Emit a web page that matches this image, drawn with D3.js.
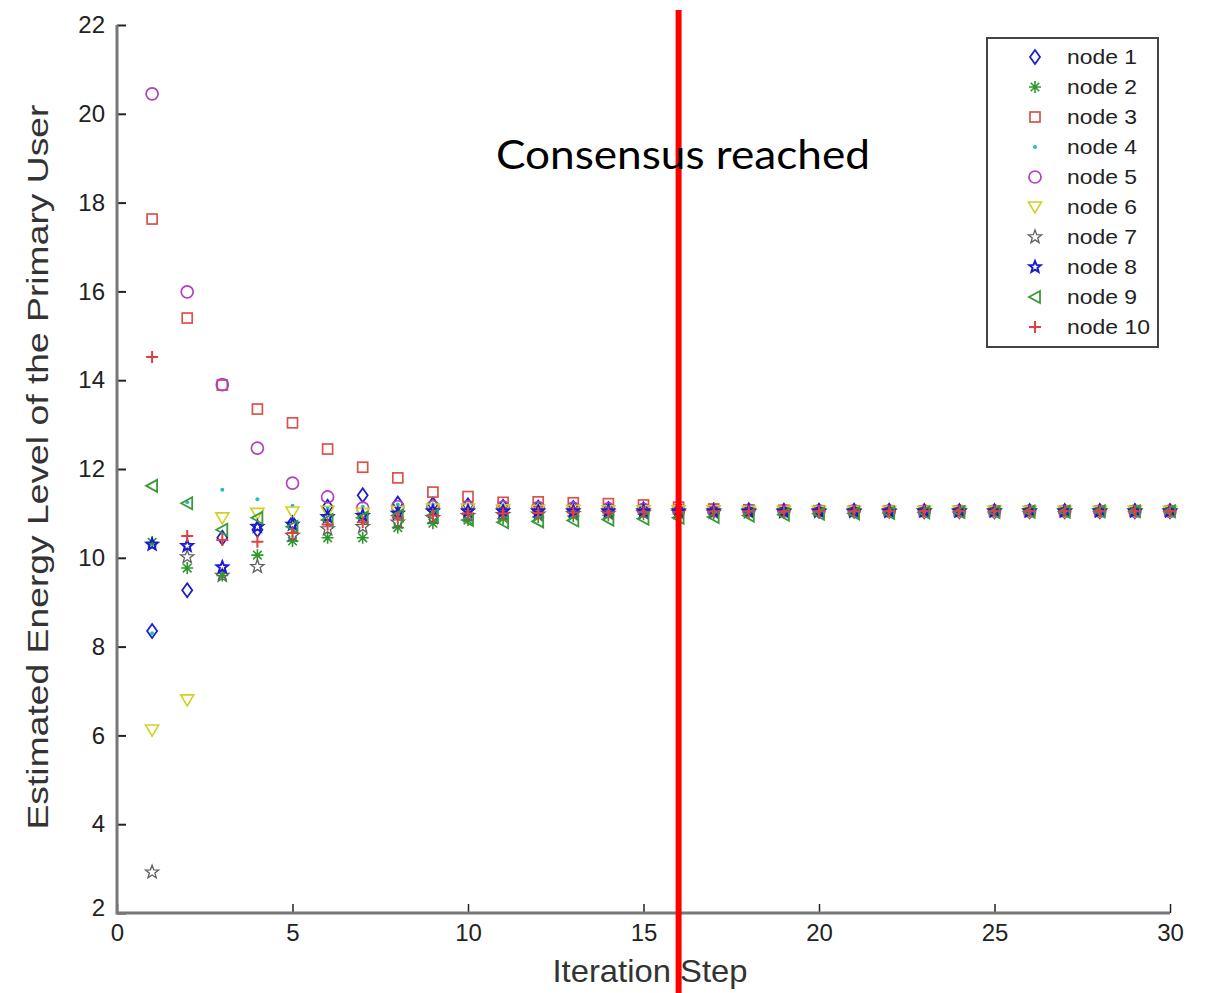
<!DOCTYPE html>
<html>
<head>
<meta charset="utf-8">
<script src="https://cdn.jsdelivr.net/npm/d3@7"></script>
<style>
  html, body { margin: 0; padding: 0; background: #fff; }
  svg { display: block; }
</style>
</head>
<body>
<svg id="chart" width="1210" height="993"></svg>
<script>
// Iteration steps 1..30
const steps = d3.range(1, 31);

// Estimated energy level of each node at every iteration step
const node1 = [8.35, 9.27, 10.45, 10.63, 10.78, 11.15, 11.41, 11.22, 11.20, 11.18, 11.15, 11.13, 11.12, 11.10, 11.09, 11.08, 11.07, 11.07, 11.06, 11.06, 11.06, 11.06, 11.05, 11.05, 11.05, 11.05, 11.05, 11.05, 11.05, 11.05];
const node2 = [10.35, 9.77, 9.60, 10.06, 10.38, 10.45, 10.45, 10.68, 10.78, 10.85, 10.88, 10.92, 10.94, 10.96, 10.98, 10.99, 11.00, 11.01, 11.02, 11.03, 11.03, 11.04, 11.04, 11.04, 11.05, 11.05, 11.05, 11.05, 11.05, 11.05];
const node3 = [17.63, 15.40, 13.89, 13.35, 13.04, 12.45, 12.04, 11.80, 11.48, 11.38, 11.25, 11.26, 11.24, 11.22, 11.19, 11.14, 11.10, 11.08, 11.07, 11.06, 11.06, 11.06, 11.05, 11.05, 11.05, 11.05, 11.05, 11.05, 11.05, 11.05];
const node4 = [8.30, 11.25, 11.53, 11.32, 11.17, 11.12, 11.15, 11.20, 11.20, 11.15, 11.12, 11.10, 11.09, 11.08, 11.07, 11.07, 11.06, 11.06, 11.06, 11.05, 11.05, 11.05, 11.05, 11.05, 11.05, 11.05, 11.05, 11.05, 11.05, 11.05];
const node5 = [20.45, 15.99, 13.90, 12.47, 11.68, 11.37, 11.12, 11.15, 11.15, 11.15, 11.14, 11.13, 11.12, 11.10, 11.09, 11.08, 11.07, 11.07, 11.06, 11.06, 11.06, 11.05, 11.05, 11.05, 11.05, 11.05, 11.05, 11.05, 11.05, 11.05];
const node6 = [6.12, 6.80, 10.90, 11.00, 11.03, 11.05, 11.00, 11.05, 11.10, 11.10, 11.08, 11.07, 11.07, 11.06, 11.06, 11.06, 11.06, 11.05, 11.05, 11.05, 11.05, 11.05, 11.05, 11.05, 11.05, 11.05, 11.05, 11.05, 11.05, 11.05];
const node7 = [2.92, 10.02, 9.60, 9.80, 10.50, 10.65, 10.70, 10.80, 10.90, 10.95, 10.97, 10.98, 10.99, 11.00, 11.01, 11.02, 11.02, 11.03, 11.03, 11.04, 11.04, 11.04, 11.05, 11.05, 11.05, 11.05, 11.05, 11.05, 11.05, 11.05];
const node8 = [10.30, 10.27, 9.79, 10.70, 10.75, 10.92, 10.95, 11.00, 11.05, 11.05, 11.05, 11.05, 11.05, 11.05, 11.05, 11.05, 11.05, 11.05, 11.05, 11.05, 11.05, 11.05, 11.05, 11.05, 11.05, 11.05, 11.05, 11.05, 11.05, 11.05];
const node9 = [11.62, 11.23, 10.63, 10.90, 10.70, 10.85, 10.90, 10.95, 10.95, 10.85, 10.80, 10.82, 10.84, 10.86, 10.88, 10.90, 10.92, 10.95, 10.97, 10.99, 11.00, 11.01, 11.02, 11.03, 11.03, 11.04, 11.04, 11.05, 11.05, 11.05];
const node10 = [14.52, 10.49, 10.40, 10.36, 10.56, 10.75, 10.80, 10.90, 10.95, 11.00, 11.00, 11.01, 11.02, 11.02, 11.03, 11.03, 11.04, 11.04, 11.04, 11.05, 11.05, 11.05, 11.05, 11.05, 11.05, 11.05, 11.05, 11.05, 11.05, 11.05];

const nodeNames = ["node 1", "node 2", "node 3", "node 4", "node 5", "node 6", "node 7", "node 8", "node 9", "node 10"];
const nodeValues = [node1, node2, node3, node4, node5, node6, node7, node8, node9, node10];
const nodeColors = ["#1f1fc8", "#2a9a2a", "#d9534a", "#20c0c0", "#b040c0", "#d0d020", "#606060", "#1a1ad0", "#3a9a3a", "#e04040"];
const nodeMarkers = ["diamond", "asterisk", "square", "dot", "circle", "triDown", "star", "starBold", "triLeft", "plus"];

const xTicks = [0, 5, 10, 15, 20, 25, 30];
const yTicks = [2, 4, 6, 8, 10, 12, 14, 16, 18, 20, 22];

const consensusStep = 16;

const svg = d3.select("#chart");

const x = d3.scaleLinear().domain([0, 30]).range([117, 1170]);
const y = d3.scaleLinear().domain([2, 22]).range([913, 25]);

// five-pointed star outline
function starPath(ro, ri) {
  const pts = [];
  for (let i = 0; i < 10; i++) {
    const a = -Math.PI / 2 + i * Math.PI / 5;
    const r = i % 2 === 0 ? ro : ri;
    pts.push([r * Math.cos(a), r * Math.sin(a)]);
  }
  return "M" + pts.map(p => p[0].toFixed(2) + "," + p[1].toFixed(2)).join("L") + "Z";
}

// Draws a marker of the given kind into group g
function drawMarker(g, kind, color) {
  switch (kind) {
    case "diamond":
      g.append("path").attr("d", "M0,-7L5,0L0,7L-5,0Z")
        .attr("fill", "none").attr("stroke", color).attr("stroke-width", 1.8);
      break;
    case "asterisk":
      g.append("path").attr("d", "M-6,0L6,0M0,-6L0,6M-4.3,-4.3L4.3,4.3M-4.3,4.3L4.3,-4.3")
        .attr("stroke", color).attr("stroke-width", 1.6);
      break;
    case "square":
      g.append("rect").attr("x", -5).attr("y", -5).attr("width", 10).attr("height", 10)
        .attr("fill", "none").attr("stroke", color).attr("stroke-width", 1.7);
      break;
    case "dot":
      g.append("circle").attr("r", 2).attr("fill", color);
      break;
    case "circle":
      g.append("circle").attr("r", 6)
        .attr("fill", "none").attr("stroke", color).attr("stroke-width", 1.7);
      break;
    case "triDown":
      g.append("path").attr("d", "M-6.5,-5L6.5,-5L0,6Z")
        .attr("fill", "none").attr("stroke", color).attr("stroke-width", 1.6);
      break;
    case "star":
      g.append("path").attr("d", starPath(7, 2.9))
        .attr("fill", "none").attr("stroke", color).attr("stroke-width", 1.3);
      break;
    case "starBold":
      g.append("path").attr("d", starPath(6, 2.6))
        .attr("fill", "none").attr("stroke", color).attr("stroke-width", 2);
      break;
    case "triLeft":
      g.append("path").attr("d", "M-6,0L5,-6L5,6Z")
        .attr("fill", "none").attr("stroke", color).attr("stroke-width", 1.8);
      break;
    case "plus":
      g.append("path").attr("d", "M-6,0L6,0M0,-6L0,6")
        .attr("stroke", color).attr("stroke-width", 2);
      break;
  }
}

// Axes
const axisFont = "'Liberation Sans', Arial, sans-serif";

const yAxis = d3.axisLeft(y).tickValues(yTicks).tickSize(0).tickPadding(12);
const yg = svg.append("g").attr("transform", `translate(${x(0)},0)`).call(yAxis);
yg.select(".domain").remove();
yg.selectAll(".tick text").attr("font-family", axisFont).attr("font-size", 24)
  .attr("fill", "#222").attr("dy", d => d === 2 ? "0.1em" : "0.32em");
yg.selectAll(".tick").append("line").attr("x1", 0).attr("x2", 9).attr("stroke", "#222").attr("stroke-width", 2);

const xAxis = d3.axisBottom(x).tickValues(xTicks).tickSize(0).tickPadding(10);
const xg = svg.append("g").attr("transform", `translate(0,${y(2)})`).call(xAxis);
xg.select(".domain").remove();
xg.selectAll(".tick text").attr("font-family", axisFont).attr("font-size", 24)
  .attr("fill", "#222").attr("dy", "0.75em");
xg.selectAll(".tick").append("line").attr("y1", 0).attr("y2", -9).attr("stroke", "#222").attr("stroke-width", 1.5);

// Axis lines (left and bottom only)
svg.append("path")
  .attr("d", `M${x(0)},${y(22)}L${x(0)},${y(2)}L${x(30)},${y(2)}`)
  .attr("fill", "none").attr("stroke", "#777").attr("stroke-width", 3);

// Axis titles
svg.append("text")
  .attr("transform", `translate(48,467) rotate(-90)`)
  .attr("text-anchor", "middle")
  .attr("font-family", axisFont).attr("font-size", 30).attr("fill", "#333")
  .attr("textLength", 725).attr("lengthAdjust", "spacingAndGlyphs")
  .text("Estimated Energy Level of the Primary User");

svg.append("text")
  .attr("x", 650).attr("y", 982)
  .attr("text-anchor", "middle")
  .attr("font-family", axisFont).attr("font-size", 32).attr("fill", "#333")
  .attr("textLength", 195).attr("lengthAdjust", "spacingAndGlyphs")
  .text("Iteration Step");

// Data markers
const plot = svg.append("g");
nodeValues.forEach((vals, i) => {
  const grp = plot.append("g");
  vals.forEach((v, j) => {
    const m = grp.append("g").attr("transform", `translate(${x(steps[j])},${y(v)})`);
    drawMarker(m, nodeMarkers[i], nodeColors[i]);
  });
});

// Legend
const legend = svg.append("g");
legend.append("rect").attr("x", 987).attr("y", 38).attr("width", 171).attr("height", 309)
  .attr("fill", "#fff").attr("stroke", "#444").attr("stroke-width", 2);
nodeNames.forEach((name, i) => {
  const cy = 57 + i * 30;
  const m = legend.append("g").attr("transform", `translate(1035,${cy})`);
  drawMarker(m, nodeMarkers[i], nodeColors[i]);
  legend.append("text").attr("x", 1067).attr("y", cy).attr("dy", "0.35em")
    .attr("font-family", axisFont).attr("font-size", 21).attr("fill", "#222")
    .attr("textLength", name.length > 6 ? 83 : 70).attr("lengthAdjust", "spacingAndGlyphs")
    .text(name);
});

// Consensus marker
svg.append("line")
  .attr("x1", x(consensusStep)).attr("x2", x(consensusStep))
  .attr("y1", 10).attr("y2", 993)
  .attr("stroke", "#ff0000").attr("stroke-width", 6);

svg.append("text")
  .attr("x", 496).attr("y", 169)
  .attr("font-family", "Lato, 'Open Sans', sans-serif").attr("font-size", 40).attr("fill", "#000")
  .attr("textLength", 374).attr("lengthAdjust", "spacingAndGlyphs")
  .text("Consensus reached");
</script>
</body>
</html>
